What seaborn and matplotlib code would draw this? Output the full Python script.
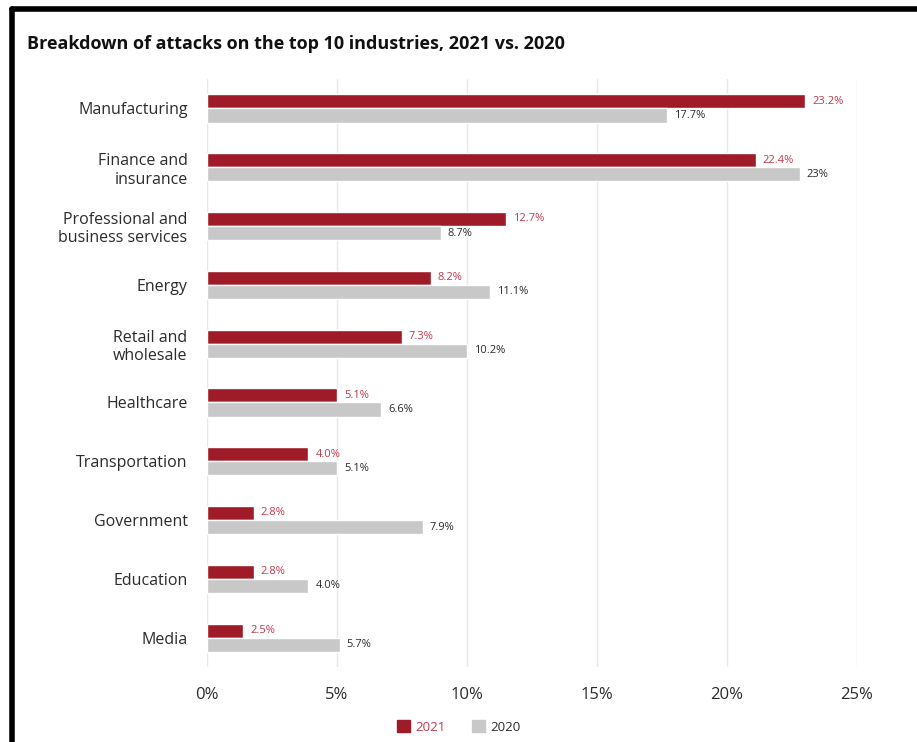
import matplotlib
matplotlib.use("Agg")
import matplotlib.pyplot as plt
import seaborn as sns
import pandas as pd
from matplotlib.patches import Patch
from matplotlib.lines import Line2D

categories = ["Manufacturing", "Finance and\ninsurance", "Professional and\nbusiness services",
              "Energy", "Retail and\nwholesale", "Healthcare", "Transportation",
              "Government", "Education", "Media"]
# bar lengths as drawn in the picture (percent)
values_2021 = [23.0, 21.1, 11.5, 8.6, 7.5, 5.0, 3.9, 1.8, 1.8, 1.4]
values_2020 = [17.7, 22.8, 9.0, 10.9, 10.0, 6.7, 5.0, 8.3, 3.9, 5.1]
# printed labels
labels_2021 = ["23.2%", "22.4%", "12.7%", "8.2%", "7.3%", "5.1%", "4.0%", "2.8%", "2.8%", "2.5%"]
labels_2020 = ["17.7%", "23%", "8.7%", "11.1%", "10.2%", "6.6%", "5.1%", "7.9%", "4.0%", "5.7%"]
series = ["2021", "2020"]
xticks = [0, 5, 10, 15, 20, 25]

RED = "#9e1b27"
RED_TXT = "#c2384a"
GRAY = "#c8c8c8"
DARK = "#2b2b2b"

df = pd.DataFrame({
    "industry": categories * 2,
    "value": values_2021 + values_2020,
    "year": [series[0]] * len(categories) + [series[1]] * len(categories),
})

sns.set_theme(style="white")
plt.rcParams["font.family"] = ["Open Sans", "DejaVu Sans"]

fig = plt.figure(figsize=(9.17, 7.42), dpi=100)
ax = fig.add_axes([0.2257, 0.101, 0.7089, 0.7925])

sns.barplot(data=df, y="industry", x="value", hue="year", order=categories,
            hue_order=series, palette=[RED, GRAY], orient="h", width=0.48,
            ax=ax, legend=False, saturation=1)

ax.set_xlim(0, 25)
ax.set_xticks(xticks)
ax.set_xticklabels([f"{t}%" for t in xticks], fontsize=12, color=DARK)
ax.set_xlabel("")
ax.set_ylabel("")
ax.tick_params(axis="y", labelsize=11.5, labelcolor=DARK, length=0, pad=14)
ax.tick_params(axis="x", length=0, pad=14)
for lab in ax.get_yticklabels():
    lab.set_horizontalalignment("right")
    lab.set_multialignment("right")
ax.grid(axis="x", color="#e8e8e8", linewidth=1)
ax.set_axisbelow(True)
for s in ax.spines.values():
    s.set_visible(False)

for cont, labs, col in zip(ax.containers, [labels_2021, labels_2020], [RED_TXT, DARK]):
    ax.bar_label(cont, labels=labs, padding=5, fontsize=8, color=col)

fig.text(0.029, 0.941, "Breakdown of attacks on the top 10 industries, 2021 vs. 2020",
         fontsize=13, fontweight="bold", color="#111111", va="center", ha="left")

handles = [Patch(facecolor=RED, edgecolor=RED), Patch(facecolor=GRAY, edgecolor=GRAY)]
leg = fig.legend(handles, series, loc="center", bbox_to_anchor=(0.50, 0.020), ncol=2,
                 frameon=False, fontsize=9.5, handlelength=1.0, handleheight=1.0,
                 columnspacing=2.0, handletextpad=0.4)
leg.get_texts()[0].set_color(RED_TXT)
leg.get_texts()[1].set_color(DARK)

# black frame on top and left
fig.add_artist(Line2D([0.0136, 1.0], [0.9875, 0.9875], color="black", linewidth=4,
                      transform=fig.transFigure))
fig.add_artist(Line2D([0.0136, 0.0136], [0.0, 0.9875], color="black", linewidth=4,
                      transform=fig.transFigure))

fig.savefig("out.png", dpi=100, facecolor="white")
